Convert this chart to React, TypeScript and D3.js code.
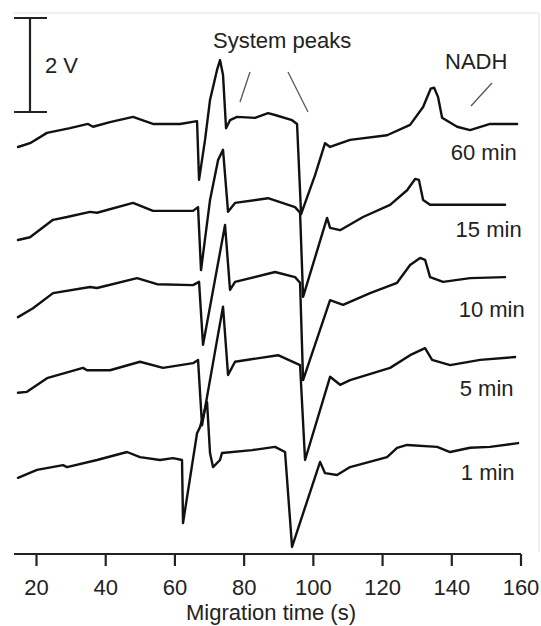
import React from 'react';
import * as d3 from 'd3';

// electropherograms, stacked (volts incl. offset)
const t60 = [14.65, 18.12, 23.03, 29.68, 34.88, 36.33, 41.24, 47.89, 51.36, 53.67, 61.47, 66.39, 66.97, 68.7, 70.14, 72.17, 73.03, 73.9, 74.77, 75.92, 77.95, 83.15, 86.91, 88.93, 93.84, 95.29, 96.45, 100.49, 103.38, 104.83, 110.61, 121.3, 127.95, 131.71, 133.9, 134.9, 136.04, 137.2, 141.53, 145.29, 151.07, 158.87];
const v60 = [8.66, 8.74, 8.96, 9.06, 9.15, 9.09, 9.19, 9.3, 9.21, 9.15, 9.15, 9.21, 7.96, 8.81, 9.66, 10.3, 10.51, 10.19, 9.06, 9.23, 9.3, 9.28, 9.38, 9.34, 9.23, 9.15, 7.23, 8.06, 8.74, 8.66, 8.81, 8.91, 9.13, 9.51, 9.9, 9.92, 9.72, 9.28, 9.09, 9.02, 9.15, 9.15];

const t15 = [14.65, 18.12, 24.77, 28.82, 35.46, 37.49, 47.89, 53.67, 65.23, 66.68, 67.54, 70.14, 72.46, 73.9, 75.35, 77.37, 86.91, 94.71, 96.16, 97.03, 103.96, 104.83, 107.72, 114.36, 122.17, 127.08, 129.4, 130.5, 131.71, 133.73, 143.27, 155.4];
const v15 = [6.68, 6.74, 7.11, 7.17, 7.28, 7.26, 7.47, 7.3, 7.3, 7.38, 6.04, 7.53, 8.38, 8.6, 7.28, 7.47, 7.57, 7.38, 7.26, 5.47, 7.15, 6.94, 6.89, 7.17, 7.43, 7.74, 7.98, 7.96, 7.53, 7.43, 7.43, 7.43];

const t10 = [14.65, 18.99, 24.77, 35.46, 37.49, 49.05, 54.83, 65.23, 66.97, 68.12, 74.48, 75.92, 77.37, 88.93, 94.71, 96.16, 97.03, 104.83, 108.58, 116.39, 124.19, 127.95, 130.84, 132.28, 133.73, 137.49, 145.29, 155.4];
const v10 = [5.04, 5.23, 5.55, 5.68, 5.66, 5.87, 5.74, 5.72, 5.79, 4.45, 7.0, 5.62, 5.79, 6.0, 5.89, 5.77, 3.7, 5.4, 5.3, 5.55, 5.77, 6.15, 6.3, 6.26, 5.89, 5.79, 5.87, 5.89];

const t5 = [14.65, 17.25, 23.03, 33.44, 34.6, 41.24, 49.91, 56.56, 65.23, 66.68, 67.83, 72.17, 73.9, 75.35, 77.37, 89.8, 96.16, 97.6, 104.83, 107.72, 110.61, 122.17, 127.95, 132.28, 134.31, 139.51, 148.18, 158.29];
const v5 = [3.43, 3.45, 3.74, 3.96, 3.91, 3.91, 4.09, 3.96, 4.06, 4.13, 2.74, 4.55, 5.26, 3.81, 4.09, 4.23, 4.02, 2.0, 3.77, 3.6, 3.7, 3.96, 4.23, 4.38, 4.13, 4.02, 4.13, 4.19];

const t1 = [14.65, 20.14, 27.66, 28.82, 37.49, 46.16, 49.91, 55.69, 59.45, 62.05, 62.34, 66.39, 67.25, 69.28, 70.14, 71.01, 73.03, 73.61, 82.28, 88.93, 91.82, 93.84, 101.94, 103.38, 106.85, 110.61, 121.3, 124.19, 127.08, 135.75, 139.51, 145.29, 151.07, 159.16];
const v1 = [1.62, 1.79, 1.89, 1.85, 2.0, 2.17, 2.06, 2.0, 2.04, 2.0, 0.66, 2.57, 2.7, 3.23, 2.15, 1.85, 2.0, 2.15, 2.21, 2.28, 2.17, 0.15, 1.96, 1.72, 1.68, 1.85, 2.06, 2.26, 2.32, 2.28, 2.17, 2.26, 2.28, 2.36];

const traceNames = ['60 min', '15 min', '10 min', '5 min', '1 min'];
const traceTimes = [t60, t15, t10, t5, t1];
const traceVolts = [v60, v15, v10, v5, v1];
// where each trace label sits (time, volts)
const labelAt = [[139.7, 8.38], [141.1, 6.74], [142, 5.04], [142.3, 3.36], [142.6, 1.57]];

const xTicks = [20, 40, 60, 80, 100, 120, 140, 160];

const W = 541;
const H = 626;

export default function App() {
  const x = d3.scaleLinear().domain([20, 160]).range([36.5, 521]);
  const y = d3.scaleLinear().domain([0, 11.5]).range([554, 13.5]);
  const axisY = 554;

  const line = d3.line<[number, number]>()
    .x(d => x(d[0]))
    .y(d => y(d[1]));

  const font = '"Liberation Sans", Arial, sans-serif';

  return (
    <svg width={W} height={H} style={{ position: 'absolute', left: 0, top: 0, background: '#fff' }}
      fontFamily={font}>
      {/* faint frame */}
      <line x1={13} y1={13} x2={539} y2={13} stroke="#e2e2e2" strokeWidth={1} />
      <line x1={539} y1={13} x2={539} y2={552} stroke="#e2e2e2" strokeWidth={1} />

      {/* scale bar */}
      <g stroke="#222" strokeWidth={2.2}>
        <line x1={30} y1={18} x2={30} y2={112} />
        <line x1={14} y1={18} x2={47} y2={18} />
        <line x1={14} y1={112} x2={47} y2={112} />
      </g>
      <text x={45} y={73} fontSize={22} fill="#222">2 V</text>

      {/* traces */}
      {traceTimes.map((ts, i) => (
        <path key={traceNames[i]}
          d={line(ts.map((t, j) => [t, traceVolts[i][j]]) as [number, number][]) || ''}
          fill="none" stroke="#111" strokeWidth={2.4} strokeLinejoin="round" strokeLinecap="round" />
      ))}
      {traceNames.map((n, i) => (
        <text key={'l' + n} x={x(labelAt[i][0])} y={y(labelAt[i][1])} fontSize={22} fill="#222">{n}</text>
      ))}

      {/* annotations */}
      <text x={213} y={48} fontSize={22} fill="#222">System peaks</text>
      <text x={445} y={69} fontSize={22} fill="#222">NADH</text>
      <g stroke="#555" strokeWidth={1.3}>
        <line x1={250} y1={72} x2={240} y2={102} />
        <line x1={288} y1={72} x2={308} y2={112} />
        <line x1={492} y1={83} x2={471} y2={106} />
      </g>

      {/* x axis */}
      <line x1={14} y1={axisY} x2={521} y2={axisY} stroke="#222" strokeWidth={2.2} />
      {xTicks.map(t => (
        <g key={t}>
          <line x1={x(t)} y1={axisY} x2={x(t)} y2={axisY + 12} stroke="#222" strokeWidth={2.2} />
          <text x={x(t)} y={595} fontSize={22} textAnchor="middle" fill="#222">{t}</text>
        </g>
      ))}
      <text x={271} y={620} fontSize={22} textAnchor="middle" fill="#222">Migration time (s)</text>
    </svg>
  );
}
